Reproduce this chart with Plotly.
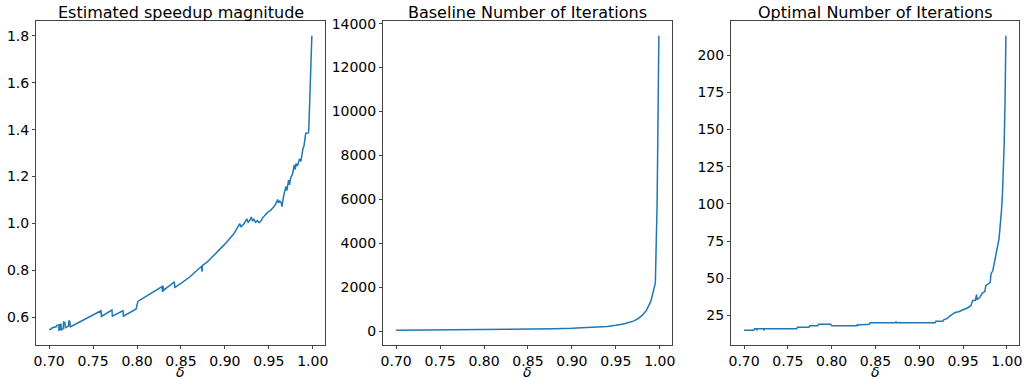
import plotly.graph_objects as go

# ---------------- data ----------------
speedup_delta = [0.700, 0.703, 0.7035, 0.708, 0.7085, 0.711, 0.7112, 0.7125, 0.7128, 0.7135, 0.7138,
                 0.716, 0.7165, 0.718, 0.7185, 0.722, 0.7225, 0.7235, 0.724, 0.725,
                 0.759, 0.7595, 0.7715, 0.772, 0.784, 0.7845, 0.799, 0.8005, 0.801,
                 0.8285, 0.829, 0.8295, 0.8305, 0.8425, 0.843, 0.850, 0.860, 0.870, 0.8735,
                 0.874, 0.8745, 0.880, 0.890, 0.900, 0.910, 0.917, 0.918, 0.922, 0.925,
                 0.9265, 0.9285, 0.930, 0.9315, 0.933, 0.935, 0.937, 0.939, 0.941, 0.943,
                 0.945, 0.947, 0.950, 0.952, 0.955, 0.957, 0.959, 0.960, 0.961, 0.9625,
                 0.964, 0.965, 0.967, 0.9695, 0.9705, 0.9725, 0.9735, 0.975, 0.977, 0.979,
                 0.980, 0.981, 0.9825, 0.985, 0.9865, 0.988, 0.989, 0.990, 0.991, 0.992,
                 0.993, 0.995, 0.9955, 0.996, 0.997, 0.998, 0.999]
speedup_value = [0.548, 0.551, 0.556, 0.560, 0.566, 0.568, 0.545, 0.548, 0.572, 0.570, 0.545,
                 0.552, 0.580, 0.578, 0.556, 0.563, 0.586, 0.583, 0.560, 0.561,
                 0.628, 0.604, 0.631, 0.605, 0.628, 0.605, 0.636, 0.655, 0.668,
                 0.731, 0.708, 0.734, 0.716, 0.751, 0.728, 0.745, 0.772, 0.806, 0.818,
                 0.795, 0.821, 0.836, 0.872, 0.912, 0.955, 0.999, 0.985, 1.000, 1.020,
                 1.005, 1.014, 1.028, 1.010, 1.018, 1.005, 1.012, 1.003, 1.010, 1.024,
                 1.030, 1.040, 1.052, 1.056, 1.068, 1.077, 1.092, 1.102, 1.088, 1.095,
                 1.090, 1.072, 1.120, 1.158, 1.140, 1.185, 1.165, 1.195, 1.210, 1.250,
                 1.230, 1.255, 1.245, 1.275, 1.265, 1.310, 1.322, 1.330, 1.360, 1.384,
                 1.384, 1.386, 1.400, 1.450, 1.570, 1.670, 1.800]

baseline_delta = [0.700, 0.750, 0.800, 0.850, 0.880, 0.900, 0.920, 0.940, 0.950, 0.960,
                  0.970, 0.975, 0.980, 0.985, 0.990, 0.993, 0.995, 0.997, 0.999]
baseline_value = [45, 54, 67, 89, 112, 134, 168, 222, 275, 345,
                  460, 560, 720, 960, 1380, 1800, 2200, 5800, 13450]

optimal_delta = [0.700, 0.711, 0.712, 0.714, 0.7145, 0.715, 0.722, 0.7225, 0.723, 0.760, 0.761,
                 0.774, 0.775, 0.784, 0.785, 0.799, 0.800, 0.829, 0.8295, 0.8300, 0.843, 0.844,
                 0.873, 0.8735, 0.874, 0.918, 0.919, 0.927, 0.928, 0.932, 0.936, 0.941,
                 0.945, 0.950, 0.955, 0.959, 0.961, 0.964, 0.9655, 0.966, 0.969, 0.972,
                 0.975, 0.976, 0.980, 0.981, 0.982, 0.984, 0.985, 0.986, 0.987, 0.988,
                 0.989, 0.990, 0.991, 0.992, 0.993, 0.994, 0.995, 0.996, 0.997, 0.998, 0.999]
optimal_value = [15, 15, 16, 16, 15, 16, 16, 15, 16, 16, 17,
                 17, 18, 18, 19, 19, 18, 18, 19, 18.5, 19, 20,
                 20, 21, 20, 20, 21, 21, 22, 23, 25, 27,
                 27.5, 28.5, 30, 31.5, 35, 35, 39, 35.5, 37, 40,
                 41, 45, 47, 47, 53, 55, 58, 61, 62, 66,
                 70, 73, 76, 82, 88, 96, 106, 120, 140, 168, 213]

titles = ["Estimated speedup magnitude", "Baseline Number of Iterations", "Optimal Number of Iterations"]
x_ticks = [0.70, 0.75, 0.80, 0.85, 0.90, 0.95, 1.00]
y1_ticks = [0.6, 0.8, 1.0, 1.2, 1.4, 1.6, 1.8]
y2_ticks = [0, 2000, 4000, 6000, 8000, 10000, 12000, 14000]
y3_ticks = [25, 50, 75, 100, 125, 150, 175, 200]

# ---------------- layout ----------------
W, H = 1026, 379
x_domains = [(36 / W, 325 / W), (383 / W, 672 / W), (731 / W, 1019 / W)]
y_domain = (1 - 345 / H, 1 - 21 / H)
color = "#1f77b4"
font = "DejaVu Sans, Liberation Sans, sans-serif"


def rng(vals):
    lo, hi = min(vals), max(vals)
    m = 0.05 * (hi - lo)
    return [lo - m, hi + m]


series = [(speedup_delta, speedup_value, y1_ticks, "%.1f"),
          (baseline_delta, baseline_value, y2_ticks, "%d"),
          (optimal_delta, optimal_value, y3_ticks, "%d")]

fig = go.Figure()
layout = dict(width=W, height=H, margin=dict(l=0, r=0, t=0, b=0),
              paper_bgcolor="white", plot_bgcolor="white", showlegend=False,
              font=dict(family=font, size=14, color="black"))
annotations = []
axis_common = dict(showline=True, mirror=True, linecolor="#444", linewidth=1,
                   ticks="outside", ticklen=3, tickwidth=1, tickcolor="#444",
                   showgrid=False, zeroline=False, automargin=False,
                   tickfont=dict(family=font, size=14, color="black"))

for i, (xs, ys, yt, fmt) in enumerate(series):
    k = "" if i == 0 else str(i + 1)
    fig.add_trace(go.Scatter(x=xs, y=ys, mode="lines", line=dict(color=color, width=1.5),
                             xaxis="x" + k, yaxis="y" + k, hoverinfo="skip"))
    layout["xaxis" + k] = dict(domain=list(x_domains[i]), range=rng(xs), anchor="y" + k,
                               tickvals=x_ticks, ticktext=["%.2f" % v for v in x_ticks],
                               **axis_common)
    layout["yaxis" + k] = dict(domain=list(y_domain), range=rng(ys), anchor="x" + k,
                               tickvals=yt, ticktext=[fmt % v for v in yt], **axis_common)
    cx = (x_domains[i][0] + x_domains[i][1]) / 2
    annotations.append(dict(text=titles[i], x=cx, y=1 - 12 / H, xref="paper", yref="paper",
                            xanchor="center", yanchor="middle", showarrow=False,
                            font=dict(family=font, size=16, color="black")))
    annotations.append(dict(text="<i>δ</i>", x=cx, y=1 - 372 / H, xref="paper", yref="paper",
                            xanchor="center", yanchor="middle", showarrow=False,
                            font=dict(family=font, size=14, color="black")))

layout["annotations"] = annotations
fig.update_layout(**layout)
fig.write_html("out.html", config={"displayModeBar": False, "staticPlot": True},
               post_script="document.body.style.margin='0';document.body.style.padding='0';"
                           "document.body.style.overflow='hidden';")
